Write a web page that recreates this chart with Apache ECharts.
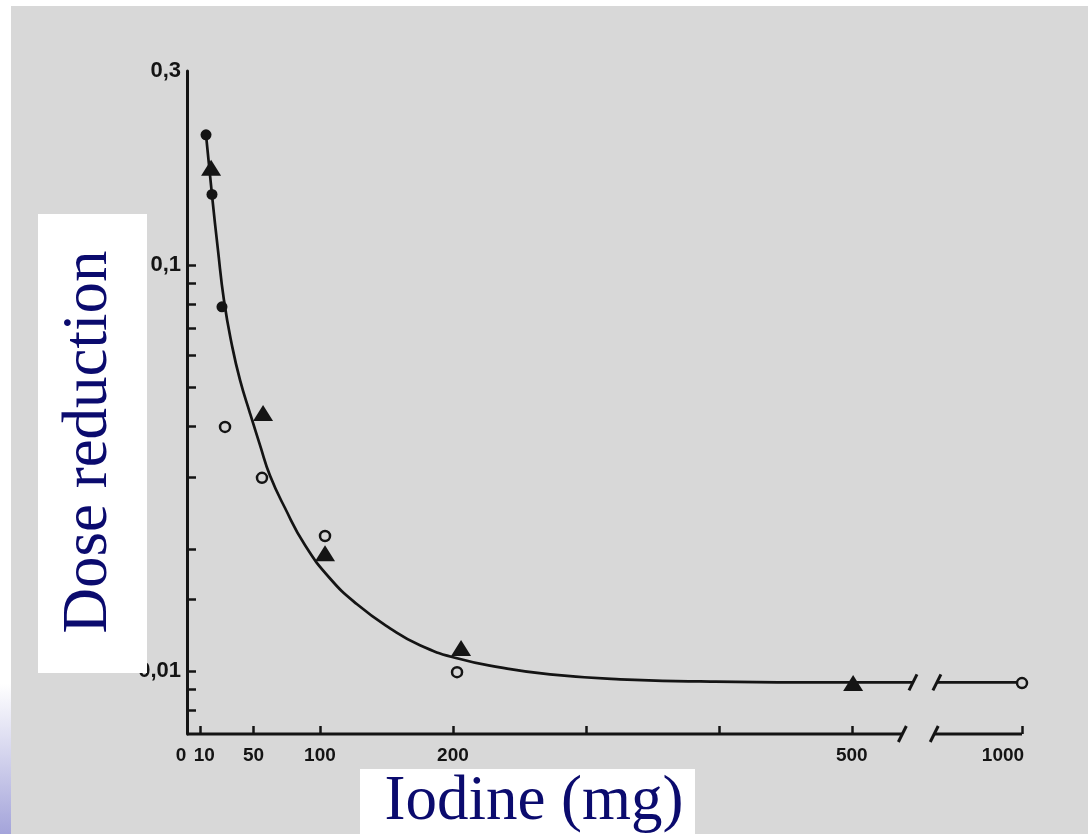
<!DOCTYPE html>
<html>
<head>
<meta charset="utf-8">
<script src="https://cdn.jsdelivr.net/npm/echarts@6/dist/echarts.min.js"></script>
<style>
html,body{margin:0;padding:0;background:#ffffff;}
#c{width:1088px;height:834px;}
</style>
</head>
<body>
<div id="c"></div>
<script>
// ---------------- data ----------------
const xTickLabels = [0, 10, 50, 100, 200, 500, 1000];
const xTickMarks  = [10, 50, 100, 200, 300, 400, 500, 1000];
const yTickLabels = [0.3, 0.1, 0.01];
const yTickMarks  = [0.008, 0.009, 0.01, 0.015, 0.02, 0.03, 0.04, 0.05, 0.06, 0.07, 0.08, 0.09, 0.1];

const filledCircles = [[14.3, 0.209], [18.8, 0.149], [26.3, 0.0788]];
const openCircles   = [[28.6, 0.0399], [56.4, 0.0299], [103.8, 0.0215], [203.1, 0.00994], [1000, 0.00934]];
const triangles     = [[18.1, 0.1734], [57.2, 0.0432], [103.8, 0.0195], [206.1, 0.0114], [501, 0.00934]];

const fitCurve = [
  [14.3, 0.2088], [18.8, 0.1485], [23.3, 0.1087], [27.8, 0.0818], [33.8, 0.0634],
  [39.9, 0.052], [47.4, 0.0431], [54.9, 0.036], [62.4, 0.0303], [73.7, 0.0252],
  [88.8, 0.0204], [107.6, 0.0169], [127.9, 0.0146], [152.7, 0.01274], [175.2, 0.01157],
  [203.1, 0.01075], [235.4, 0.01021], [273, 0.00981], [325.7, 0.00954], [385.8, 0.00943],
  [461, 0.00938], [546, 0.00938]
];
const fitCurveTail = [[903, 0.00938], [1000, 0.00938]];

const Y_MIN = 0.007, Y_MAX = 0.3;
const axisSegments = [[0, 538], [900, 1000]];   // drawn pieces of the broken x axis (mg)

// axis break: values past BREAK_HI are squeezed after the gap
const BREAK_LO = 560, BREAK_HI = 900, SHOWN_AFTER = 562, TAIL_SCALE = 0.66;
function toAxis(mg) { return mg <= BREAK_LO ? mg : SHOWN_AFTER + (mg - BREAK_HI) * TAIL_SCALE; }
const mapXY = arr => arr.map(p => [toAxis(p[0]), p[1]]);

// ---------------- styles ----------------
const INK = '#141414';
const PAPER = '#d8d8d8';
const NAVY = '#0b0b6e';
const tickFont = { fontFamily: '"Liberation Sans", Arial, sans-serif', fontWeight: 'bold', fontSize: 19, color: INK };

const chart = echarts.init(document.getElementById('c'), null, { renderer: 'canvas' });

const breakMarks = [
  [axisSegments[0][1], Y_MIN], [axisSegments[1][0], Y_MIN],
  [fitCurve[fitCurve.length - 1][0], fitCurve[fitCurve.length - 1][1]], [fitCurveTail[0][0], fitCurveTail[0][1]]
];

function xLabel(v) {
  const l = xTickLabels.find(t => Math.abs(toAxis(t) - v) < 1e-6);
  if (l === undefined) return '';
  if (l === 0) return '{a|0}';
  if (l === 10) return '{b|10}';
  if (l === 1000) return '{c|1000}';
  return String(l);
}
function yLabel(v) {
  const l = yTickLabels.find(t => Math.abs(Math.log10(t) - Math.log10(v)) < 1e-6);
  return String(l === undefined ? v : l).replace('.', ',');
}

chart.setOption({
  backgroundColor: PAPER,
  animation: false,
  grid: { left: 187, right: 66, top: 71, bottom: 100, containLabel: false, outerBoundsMode: 'none' },
  xAxis: {
    type: 'value', min: 0, max: toAxis(1000),
    axisLine: { show: false, onZero: false },
    splitLine: { show: false },
    axisTick: { show: true, inside: true, length: 8, customValues: xTickMarks.map(toAxis), lineStyle: { color: INK, width: 2.5 } },
    axisLabel: Object.assign({
      customValues: xTickLabels.map(toAxis), margin: 12, formatter: xLabel,
      rich: {
        a: Object.assign({ padding: [0, 12, 0, 0] }, tickFont),
        b: Object.assign({ padding: [0, 0, 0, 8] }, tickFont),
        c: Object.assign({ padding: [0, 38, 0, 0] }, tickFont)
      }
    }, tickFont)
  },
  yAxis: {
    type: 'log', logBase: 10, min: Y_MIN, max: Y_MAX,
    axisLine: { show: true, lineStyle: { color: INK, width: 3 } },
    splitLine: { show: false },
    axisTick: { show: true, inside: true, length: 9, customValues: yTickMarks, lineStyle: { color: INK, width: 2.5 } },
    axisLabel: Object.assign({ customValues: yTickLabels, margin: 6, formatter: yLabel, padding: [8, 0, 0, 0] }, tickFont, { fontSize: 22 })
  },
  graphic: [
    { type: 'rect', shape: { x: 0, y: 0, width: 1088, height: 6 }, style: { fill: '#ffffff' }, silent: true },
    { type: 'rect', shape: { x: 0, y: 0, width: 11, height: 834 }, silent: true,
      style: { fill: new echarts.graphic.LinearGradient(0, 0, 0, 1, [
        { offset: 0, color: '#ffffff' }, { offset: 0.82, color: '#ffffff' }, { offset: 1, color: '#a4a4da' }]) } },
    { type: 'rect', z: 100, shape: { x: 38, y: 214, width: 109, height: 459 }, style: { fill: '#ffffff' }, silent: true },
    { type: 'text', z: 101, x: 89, y: 442, rotation: Math.PI / 2, silent: true,
      style: { text: 'Dose reduction', font: '63px "Liberation Serif", "Times New Roman", serif', fill: NAVY, align: 'center', verticalAlign: 'middle' } },
    { type: 'rect', z: 100, shape: { x: 360, y: 769, width: 335, height: 65 }, style: { fill: '#ffffff' }, silent: true },
    { type: 'text', z: 101, x: 534, y: 802, silent: true,
      style: { text: 'Iodine (mg)', font: '63px "Liberation Serif", "Times New Roman", serif', fill: NAVY, align: 'center', verticalAlign: 'middle' } }
  ],
  series: [
    { name: 'x axis', type: 'line', clip: false, silent: true, symbol: 'none', z: 3,
      data: mapXY(axisSegments[0].map(v => [v, Y_MIN])), lineStyle: { color: INK, width: 3 } },
    { name: 'x axis tail', type: 'line', clip: false, silent: true, symbol: 'none', z: 3,
      data: mapXY(axisSegments[1].map(v => [v, Y_MIN])), lineStyle: { color: INK, width: 3 } },
    { name: 'fit', type: 'line', smooth: 0.5, symbol: 'none', clip: false, z: 3,
      data: mapXY(fitCurve), lineStyle: { color: INK, width: 2.7 } },
    { name: 'fit tail', type: 'line', symbol: 'none', clip: false, z: 3,
      data: mapXY(fitCurveTail), lineStyle: { color: INK, width: 2.7 } },
    { name: 'breaks', type: 'custom', clip: false, silent: true, z: 4,
      data: mapXY(breakMarks),
      renderItem: (params, api) => {
        const p = api.coord([api.value(0), api.value(1)]);
        return { type: 'line', shape: { x1: p[0] - 4, y1: p[1] + 8, x2: p[0] + 4, y2: p[1] - 8 },
                 style: { stroke: INK, lineWidth: 3 } };
      } },
    { name: 'filled', type: 'scatter', z: 5, symbol: 'circle', symbolSize: 11,
      data: mapXY(filledCircles), itemStyle: { color: INK, opacity: 1 } },
    { name: 'open', type: 'scatter', z: 5, symbol: 'circle', symbolSize: 10,
      data: mapXY(openCircles), itemStyle: { color: PAPER, borderColor: INK, borderWidth: 2.5, opacity: 1 } },
    { name: 'triangles', type: 'scatter', z: 5, symbol: 'triangle', symbolSize: [20, 16],
      data: mapXY(triangles), itemStyle: { color: INK, opacity: 1 } }
  ]
});
</script>
</body>
</html>
